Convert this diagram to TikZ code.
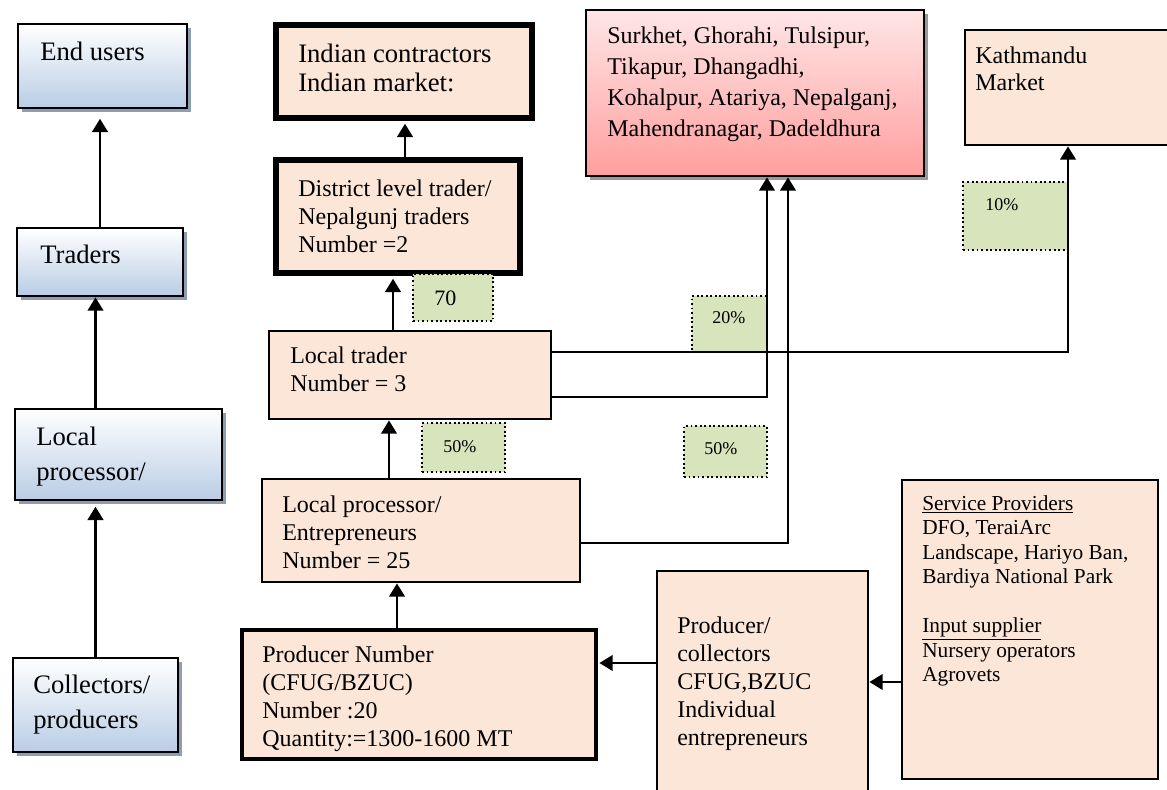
\documentclass[tikz,border=0pt]{standalone}
\usepackage{fontspec}
\setmainfont{Liberation Serif}
\usetikzlibrary{arrows.meta,fit,shadows}
\definecolor{boxblue}{HTML}{B9CDE5}
\definecolor{shadblue}{HTML}{8D9DB3}
\definecolor{boxorange}{HTML}{FCE6D8}
\definecolor{pinktop}{HTML}{FFE6E6}
\definecolor{pinkbot}{HTML}{FF9E9E}
\definecolor{pctgreen}{HTML}{D8E4BC}
\newcommand\fblue{\fontsize{20}{26}\selectfont}
\newcommand\forange{\fontsize{18}{21}\selectfont}
\newcommand\findian{\fontsize{20}{21.75}\selectfont}
\newcommand\fcity{\fontsize{18}{23.25}\selectfont}
\newcommand\fkath{\fontsize{18}{20.25}\selectfont}
\newcommand\fserv{\fontsize{16}{18.4}\selectfont}
\newcommand\fpct{\fontsize{13.5}{15}\selectfont}
\newcommand\fseventy{\fontsize{16.5}{19}\selectfont}
\tikzset{
  bluebox/.style={draw, line width=2pt, inner sep=0, top color=white, bottom color=boxblue,
    drop shadow={shadow xshift=3pt, shadow yshift=-3pt, fill=shadblue, opacity=1}},
  orbox/.style={draw, line width=2pt, inner sep=0, fill=boxorange},
  thickbox/.style={orbox, line width=4.5pt},
  pinkbox/.style={draw, line width=2pt, inner sep=0, top color=pinktop, bottom color=pinkbot,
    drop shadow={shadow xshift=3pt, shadow yshift=-3pt, fill=black!40, opacity=1}},
  pctbox/.style={draw, line width=1.4pt, dotted, inner sep=0, fill=pctgreen},
  txt/.style={inner sep=0, anchor=north west, align=left},
  pct/.style={inner sep=0, anchor=base west, font=\fpct},
  arr/.style={line width=2.2pt, -{Triangle[length=10pt,width=11.5pt]}}
}
\begin{document}
\begin{tikzpicture}[x=0.75pt,y=-0.75pt]
\useasboundingbox (0,0) rectangle (1167,789);
% left column
\node[bluebox, fit={(18,24) (187,108)}] (endu) {};
\node[bluebox, fit={(17,228) (183,296)}] (trad) {};
\node[bluebox, fit={(15,409) (222,500)}] (lproc) {};
\node[bluebox, fit={(13,658) (178,752)}] (colp) {};
\node[txt, font=\fblue] (tendu) at (40,41.7) {End users};
\node[txt, font=\fblue] (ttrad) at (40,244.7) {Traders};
\node[txt, font=\fblue] (tlproc) at (36,426.7) {Local\\processor/};
\node[txt, font=\fblue] (tcolp) at (33,674.7) {Collectors/\\producers};
\draw[arr, shorten >=7pt] (trad.north) -- (trad.north |- endu.south);
\draw[arr] (colp.north |- lproc.north) -- (colp.north |- trad.south);
\draw[arr, shorten >=4pt] (colp.north) -- (colp.north |- lproc.south);
% chain boxes
\node[thickbox, fit={(276,25) (532,118)}] (ind) {};
\node[thickbox, fit={(276,160) (520,273)}] (dist) {};
\node[orbox, fit={(269,331) (551,419)}] (ltr) {};
\node[orbox, fit={(262,479) (580,582)}] (lpr) {};
\node[orbox, line width=3pt, fit={(242,630) (596,759)}] (prod) {};
\node[orbox, fit={(657,571) (868,800)}] (pcol) {};
\node[orbox, fit={(902,480) (1158,779)}] (serv) {};
\node[pinkbox, fit={(586,10) (924,176)}] (surk) {};
\node[orbox, fit={(965,30) (1180,145)}] (kath) {};
\node[txt, font=\findian] (tind) at (298,44) {Indian contractors\\Indian market:};
\node[txt, font=\forange] (tdist) at (298,180) {District level trader/\\Nepalgunj traders\\Number =2};
\node[txt, font=\forange] (tltr) at (290,346.5) {Local trader\\Number = 3};
\node[txt, font=\forange] (tlpr) at (282,495.5) {Local processor/\\Entrepreneurs\\Number = 25};
\node[txt, font=\forange] (tprod) at (262,645.5) {Producer Number\\(CFUG/BZUC)\\Number :20\\Quantity:=1300-1600 MT};
\node[txt, font=\forange] (tpcol) at (677,616.5) {Producer/\\collectors\\CFUG,BZUC\\Individual\\entrepreneurs};
\node[txt, font=\fserv] (tserv) at (922,495) {\underline{Service Providers}\\DFO, TeraiArc\\Landscape, Hariyo Ban,\\Bardiya National Park\\[18.4pt]\underline{Input supplier}\\Nursery operators\\Agrovets};
\node[txt, font=\fcity] (tsurk) at (607,26.5) {Surkhet, Ghorahi, Tulsipur,\\Tikapur, Dhangadhi,\\Kohalpur, Atariya, Nepalganj,\\Mahendranagar, Dadeldhura};
\node[txt, font=\fkath] (tkath) at (975,46.5) {Kathmandu\\Market};
% shares
\node[pctbox, fit={(413,274) (493,321)}] (p70) {};
\node[pctbox, fit={(422,423) (505,472)}] (p50a) {};
\node[pctbox, fit={(692,296) (767,352)}] (p20) {};
\node[pctbox, fit={(963,182) (1068,250)}] (p10) {};
\node[pctbox, fit={(684,426) (767,477)}] (p50b) {};
\node[pct, font=\fseventy] (t70) at (434,305) {70};
\node[pct] (t50a) at (443,452) {50\%};
\node[pct] (t20) at (712,323) {20\%};
\node[pct] (t10) at (985,210) {10\%};
\node[pct] (t50b) at (704,454) {50\%};
% flows
\coordinate (xi) at (405,0);
\coordinate (xa) at (393,0);
\coordinate (xl) at (389,0);
\coordinate (xp) at (397,0);
\draw[arr, shorten >=2pt] (xi |- dist.north) -- (xi |- ind.south);
\draw[arr, shorten >=2pt] (xa |- ltr.north) -- (xa |- dist.south);
\draw[arr] (xl |- lpr.north) -- (xl |- ltr.south);
\draw[arr] (xp |- prod.north) -- (xp |- lpr.south);
\coordinate (kbend) at (1068,352);
\coordinate (sbend1) at (767,397);
\coordinate (sbend2) at (788,543);
\draw[arr] (ltr.east |- kbend) -- (kbend) -- (kbend |- kath.south);
\draw[arr] (ltr.east |- sbend1) -- (sbend1) -- (sbend1 |- surk.south);
\draw[arr] (lpr.east |- sbend2) -- (sbend2) -- (sbend2 |- surk.south);
\coordinate (pa) at (0,663);
\coordinate (pb) at (0,682);
\draw[arr, shorten >=1pt] (pcol.west |- pa) -- (prod.east |- pa);
\draw[arr] (serv.west |- pb) -- (pcol.east |- pb);
\end{tikzpicture}
\end{document}
